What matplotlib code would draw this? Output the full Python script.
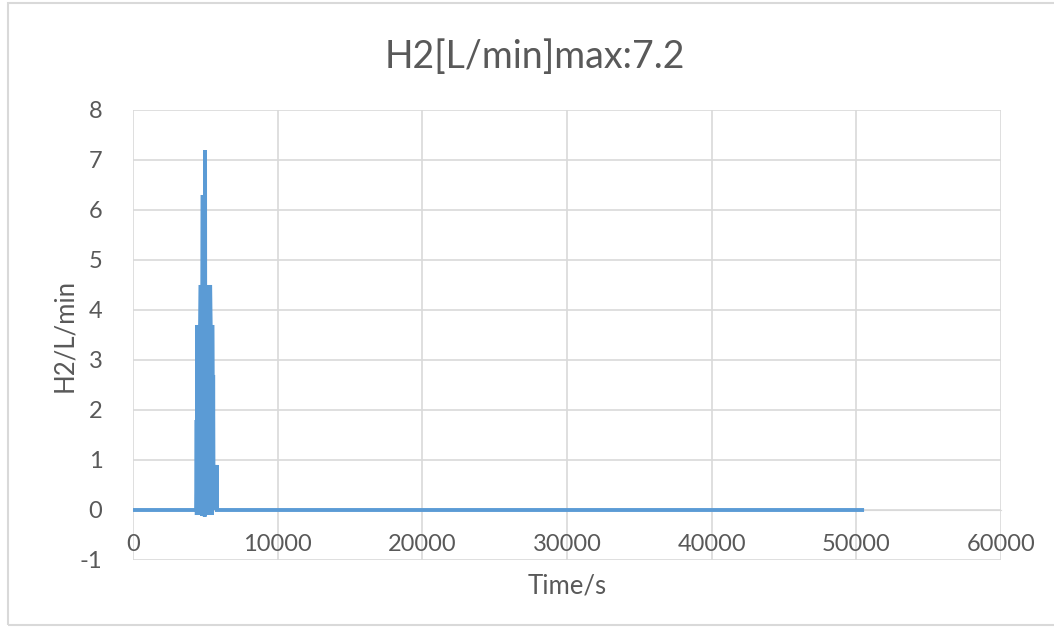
import matplotlib
matplotlib.use('Agg')
import matplotlib.pyplot as plt
from matplotlib.patches import Rectangle

# data: H2 flow vs time
time_s = [0, 4380, 4400, 4410, 4430, 4440, 4450, 4470, 4500, 4520, 4550, 4570,
          4600, 4620, 4650, 4680, 4700, 4720, 4740, 4760, 4780, 4800, 4820,
          4840, 4870, 4900, 4930, 4960, 4980, 5000, 5030, 5060, 5090, 5120,
          5150, 5180, 5210, 5240, 5270, 5300, 5330, 5370, 5400, 5430, 5460,
          5480, 5500, 5520, 5540, 5560, 5580, 5610, 5640, 5670, 5700, 5730,
          5760, 5785, 5800, 50400]
h2_lpm = [0, 0, 1.8, -0.1, 0.9, -0.1, 3.7, 0, 3.7, -0.1, 3.7, 0,
          3.7, -0.1, 3.7, 4.5, -0.1, 4.5, 0, 4.5, -0.12, 4.5, 6.3,
          -0.1, 4.5, 0, 4.5, -0.13, 7.2, 0, 4.5, -0.1, 4.5, 0,
          4.5, -0.1, 4.5, 0, 4.5, -0.1, 4.5, 3.7, 0, 3.7, -0.1,
          3.7, 2.7, 0, 2.7, 0.9, 0, 0.9, 0, 0.9, 0, 0.9,
          0, 0.9, 0, 0]

xticks = [0, 10000, 20000, 30000, 40000, 50000, 60000]
yticks = [-1, 0, 1, 2, 3, 4, 5, 6, 7, 8]

txt = '#595959'
grid = '#D9D9D9'
plt.rcParams['font.family'] = ['Lato', 'DejaVu Sans']
plt.rcParams['axes.unicode_minus'] = False

fig = plt.figure(figsize=(10.54, 6.35), dpi=100)
fig.patches.append(Rectangle((8/1054, 10/635), 1050/1054, 622/635,
                             transform=fig.transFigure, fill=False,
                             edgecolor=grid, linewidth=1.5))
ax = fig.add_axes([133/1054, 1 - 560/635, 868/1054, 450/635])

ax.plot(time_s, h2_lpm, color='#5B9BD5', linewidth=2.8, solid_joinstyle='miter', zorder=3)

ax.set_xlim(0, 60000)
ax.set_ylim(-1, 8)
ax.set_xticks(xticks)
ax.set_yticks(yticks)
ax.grid(True, color=grid, linewidth=1.2)
ax.set_axisbelow(True)
for s in ['top', 'right', 'left']:
    ax.spines[s].set_visible(False)
ax.spines['bottom'].set_position(('data', 0))
ax.spines['bottom'].set_color(grid)
ax.tick_params(length=0, labelsize=17, colors=txt)
ax.tick_params(axis='x', pad=17)
ax.tick_params(axis='y', pad=22)

fig.text(535/1054, 1 - 57/635, 'H2[L/min]max:7.2', fontsize=27, color=txt,
         ha='center', va='center')
ax.set_xlabel('Time/s', fontsize=18.5, color=txt)
ax.set_ylabel('H2/L/min', fontsize=18.5, color=txt)
ax.xaxis.set_label_coords(0.5, -0.03)
ax.yaxis.set_label_coords(-0.064, 0.5)

plt.savefig('out.png', dpi=100)
